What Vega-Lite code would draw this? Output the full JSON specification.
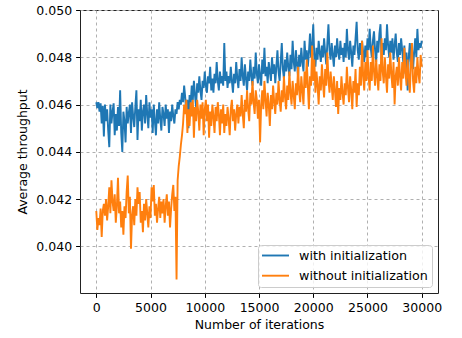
{
"$schema": "https://vega.github.io/schema/vega-lite/v6.json",
"width": 358, "height": 283,
"autosize": "none",
"padding": {"left": 80, "top": 10, "right": 24, "bottom": 45},
"background": "white",
"config": {
 "font": "DejaVu Sans",
 "view": {"stroke": "#222222", "strokeWidth": 1},
 "axis": {"domain": false, "grid": true, "gridColor": "#b0b0b0", "gridDash": [3, 3], "gridWidth": 1, "tickColor": "#000000", "tickSize": 4.4, "tickWidth": 1, "labelFontSize": 12.5, "labelColor": "#000000", "titleFontSize": 12.5, "titleColor": "#000000", "titleFontWeight": "normal", "labelPadding": 4},
 "legend": {"title": null, "orient": "bottom-right", "offset": 6, "padding": 4, "rowPadding": 6.2, "symbolType": "M-2.575,0L2.575,0", "symbolSize": 110, "symbolOffset": 7, "symbolStrokeWidth": 1.9, "labelFontSize": 12.7, "labelOffset": 17, "fillColor": "rgba(255,255,255,0.8)", "strokeColor": "#cccccc", "cornerRadius": 3, "labelColor": "#000000"}
},
"data": {"values": [
{"i":0,"w":0.0461,"o":0.0415},{"i":100,"w":0.04585,"o":0.0407},{"i":200,"w":0.0461,"o":0.0412},{"i":300,"w":0.0457,"o":0.0409},{"i":400,"w":0.04605,"o":0.0416},{"i":500,"w":0.0452,"o":0.0404},{"i":600,"w":0.04595,"o":0.0415},{"i":700,"w":0.04465,"o":0.0418},{"i":800,"w":0.046,"o":0.0413},{"i":900,"w":0.0453,"o":0.042},
{"i":1000,"w":0.0458,"o":0.0411},{"i":1100,"w":0.0449,"o":0.0417},{"i":1200,"w":0.0442,"o":0.0425},{"i":1300,"w":0.046,"o":0.0414},{"i":1400,"w":0.0452,"o":0.0428},{"i":1500,"w":0.0457,"o":0.0419},{"i":1600,"w":0.04605,"o":0.0415},{"i":1700,"w":0.0447,"o":0.0422},{"i":1800,"w":0.0456,"o":0.041},{"i":1900,"w":0.0449,"o":0.0417},
{"i":2000,"w":0.0459,"o":0.0429},{"i":2100,"w":0.0451,"o":0.0414},{"i":2200,"w":0.0466,"o":0.0419},{"i":2300,"w":0.0448,"o":0.0408},{"i":2400,"w":0.044,"o":0.0415},{"i":2500,"w":0.0457,"o":0.0405},{"i":2600,"w":0.0453,"o":0.0417},{"i":2700,"w":0.0444,"o":0.0412},{"i":2800,"w":0.0459,"o":0.0423},{"i":2900,"w":0.0452,"o":0.043},
{"i":3000,"w":0.04565,"o":0.0414},{"i":3100,"w":0.046,"o":0.0421},{"i":3200,"w":0.0448,"o":0.0399},{"i":3300,"w":0.0461,"o":0.0413},{"i":3400,"w":0.0455,"o":0.0417},{"i":3500,"w":0.04505,"o":0.0409},{"i":3600,"w":0.0459,"o":0.042},{"i":3700,"w":0.0466,"o":0.0413},{"i":3800,"w":0.0445,"o":0.0425},{"i":3900,"w":0.0458,"o":0.0418},
{"i":4000,"w":0.0453,"o":0.0423},{"i":4100,"w":0.0462,"o":0.041},{"i":4200,"w":0.0449,"o":0.0415},{"i":4300,"w":0.0457,"o":0.0406},{"i":4400,"w":0.046,"o":0.0418},{"i":4500,"w":0.0452,"o":0.0411},{"i":4600,"w":0.0464,"o":0.042},{"i":4700,"w":0.0456,"o":0.0414},{"i":4800,"w":0.045,"o":0.0408},{"i":4900,"w":0.0461,"o":0.0417},
{"i":5000,"w":0.04545,"o":0.0412},{"i":5100,"w":0.0458,"o":0.0425},{"i":5200,"w":0.0448,"o":0.0419},{"i":5300,"w":0.046,"o":0.0426},{"i":5400,"w":0.0453,"o":0.0413},{"i":5500,"w":0.0447,"o":0.0418},{"i":5600,"w":0.0458,"o":0.041},{"i":5700,"w":0.0452,"o":0.0416},{"i":5800,"w":0.0461,"o":0.0421},{"i":5900,"w":0.0454,"o":0.0412},
{"i":6000,"w":0.0449,"o":0.0419},{"i":6100,"w":0.0459,"o":0.0414},{"i":6200,"w":0.0456,"o":0.042},{"i":6300,"w":0.0451,"o":0.041},{"i":6400,"w":0.046,"o":0.0417},{"i":6500,"w":0.0454,"o":0.0422},{"i":6600,"w":0.0458,"o":0.0413},{"i":6700,"w":0.0448,"o":0.0419},{"i":6800,"w":0.0457,"o":0.0408},{"i":6900,"w":0.0453,"o":0.0416},
{"i":7000,"w":0.046,"o":0.0422},{"i":7100,"w":0.0455,"o":0.0426},{"i":7200,"w":0.0452,"o":0.0415},{"i":7300,"w":0.0458,"o":0.0421},{"i":7400,"w":0.0456,"o":0.0386},{"i":7500,"w":0.0461,"o":0.0428},{"i":7600,"w":0.0458,"o":0.0434},{"i":7700,"w":0.0462,"o":0.0438},{"i":7800,"w":0.046,"o":0.0443},{"i":7900,"w":0.0465,"o":0.0447},
{"i":8000,"w":0.0461,"o":0.0452},{"i":8100,"w":0.0468,"o":0.046},{"i":8200,"w":0.0463,"o":0.0456},{"i":8300,"w":0.0456,"o":0.0462},{"i":8400,"w":0.0462,"o":0.0448},{"i":8500,"w":0.045,"o":0.0458},{"i":8600,"w":0.0464,"o":0.0451},{"i":8700,"w":0.046,"o":0.0461},{"i":8800,"w":0.0468,"o":0.0455},{"i":8900,"w":0.0462,"o":0.0462},
{"i":9000,"w":0.047,"o":0.0446},{"i":9100,"w":0.0464,"o":0.0459},{"i":9200,"w":0.0459,"o":0.0453},{"i":9300,"w":0.0469,"o":0.0462},{"i":9400,"w":0.0465,"o":0.0457},{"i":9500,"w":0.0472,"o":0.0449},{"i":9600,"w":0.0466,"o":0.046},{"i":9700,"w":0.0462,"o":0.0454},{"i":9800,"w":0.047,"o":0.0461},{"i":9900,"w":0.0467,"o":0.0447},
{"i":10000,"w":0.0474,"o":0.0458},{"i":10100,"w":0.0468,"o":0.0462},{"i":10200,"w":0.0465,"o":0.0453},{"i":10300,"w":0.0472,"o":0.046},{"i":10400,"w":0.0469,"o":0.0446},{"i":10500,"w":0.0476,"o":0.0457},{"i":10600,"w":0.0466,"o":0.0451},{"i":10700,"w":0.0471,"o":0.046},{"i":10800,"w":0.0465,"o":0.0455},{"i":10900,"w":0.0473,"o":0.0448},
{"i":11000,"w":0.0469,"o":0.0459},{"i":11100,"w":0.0478,"o":0.0453},{"i":11200,"w":0.047,"o":0.0461},{"i":11300,"w":0.0466,"o":0.0456},{"i":11400,"w":0.0474,"o":0.0447},{"i":11500,"w":0.0469,"o":0.0458},{"i":11600,"w":0.0472,"o":0.0452},{"i":11700,"w":0.0468,"o":0.046},{"i":11800,"w":0.0486,"o":0.0448},{"i":11900,"w":0.047,"o":0.0456},
{"i":12000,"w":0.0474,"o":0.0451},{"i":12100,"w":0.0467,"o":0.0459},{"i":12200,"w":0.0472,"o":0.0454},{"i":12300,"w":0.0469,"o":0.0447},{"i":12400,"w":0.0476,"o":0.0458},{"i":12500,"w":0.047,"o":0.0462},{"i":12600,"w":0.0465,"o":0.0453},{"i":12700,"w":0.0473,"o":0.0458},{"i":12800,"w":0.0469,"o":0.0449},{"i":12900,"w":0.0478,"o":0.0456},
{"i":13000,"w":0.0471,"o":0.046},{"i":13100,"w":0.0467,"o":0.0452},{"i":13200,"w":0.0475,"o":0.0459},{"i":13300,"w":0.047,"o":0.0455},{"i":13400,"w":0.048,"o":0.0464},{"i":13500,"w":0.0472,"o":0.0456},{"i":13600,"w":0.0468,"o":0.045},{"i":13700,"w":0.0477,"o":0.0462},{"i":13800,"w":0.0471,"o":0.0457},{"i":13900,"w":0.0466,"o":0.0466},
{"i":14000,"w":0.0474,"o":0.0458},{"i":14100,"w":0.047,"o":0.0453},{"i":14200,"w":0.0479,"o":0.0465},{"i":14300,"w":0.0472,"o":0.046},{"i":14400,"w":0.0468,"o":0.047},{"i":14500,"w":0.0476,"o":0.0461},{"i":14600,"w":0.0471,"o":0.0456},{"i":14700,"w":0.0482,"o":0.0466},{"i":14800,"w":0.0473,"o":0.0462},{"i":14900,"w":0.0469,"o":0.0454},
{"i":15000,"w":0.0477,"o":0.0462},{"i":15100,"w":0.0472,"o":0.0444},{"i":15200,"w":0.0468,"o":0.046},{"i":15300,"w":0.0479,"o":0.0466},{"i":15400,"w":0.0473,"o":0.0458},{"i":15500,"w":0.0484,"o":0.047},{"i":15600,"w":0.0472,"o":0.0462},{"i":15700,"w":0.0476,"o":0.0455},{"i":15800,"w":0.0469,"o":0.0465},{"i":15900,"w":0.0478,"o":0.046},
{"i":16000,"w":0.0474,"o":0.0451},{"i":16100,"w":0.047,"o":0.0464},{"i":16200,"w":0.048,"o":0.0458},{"i":16300,"w":0.0473,"o":0.0468},{"i":16400,"w":0.0477,"o":0.0461},{"i":16500,"w":0.0469,"o":0.0456},{"i":16600,"w":0.0476,"o":0.0465},{"i":16700,"w":0.0483,"o":0.046},{"i":16800,"w":0.0474,"o":0.047},{"i":16900,"w":0.047,"o":0.0462},
{"i":17000,"w":0.0478,"o":0.0457},{"i":17100,"w":0.0486,"o":0.0466},{"i":17200,"w":0.0475,"o":0.0461},{"i":17300,"w":0.0471,"o":0.0472},{"i":17400,"w":0.0479,"o":0.0463},{"i":17500,"w":0.0474,"o":0.0458},{"i":17600,"w":0.0482,"o":0.0468},{"i":17700,"w":0.0476,"o":0.0462},{"i":17800,"w":0.0472,"o":0.0474},{"i":17900,"w":0.0481,"o":0.0465},
{"i":18000,"w":0.0475,"o":0.046},{"i":18100,"w":0.0487,"o":0.047},{"i":18200,"w":0.0478,"o":0.0464},{"i":18300,"w":0.0474,"o":0.0458},{"i":18400,"w":0.0483,"o":0.0469},{"i":18500,"w":0.0477,"o":0.0464},{"i":18600,"w":0.0472,"o":0.0476},{"i":18700,"w":0.0481,"o":0.0466},{"i":18800,"w":0.0476,"o":0.0461},{"i":18900,"w":0.0484,"o":0.0472},
{"i":19000,"w":0.0478,"o":0.0466},{"i":19100,"w":0.0474,"o":0.046},{"i":19200,"w":0.0487,"o":0.0474},{"i":19300,"w":0.0479,"o":0.0467},{"i":19400,"w":0.0483,"o":0.0479},{"i":19500,"w":0.0476,"o":0.0468},{"i":19600,"w":0.0482,"o":0.0458},{"i":19700,"w":0.049,"o":0.0472},{"i":19800,"w":0.048,"o":0.0468},{"i":19900,"w":0.0485,"o":0.0485},
{"i":20000,"w":0.0494,"o":0.047},{"i":20100,"w":0.048,"o":0.0479},{"i":20200,"w":0.0476,"o":0.0465},{"i":20300,"w":0.0484,"o":0.0474},{"i":20400,"w":0.0479,"o":0.0468},{"i":20500,"w":0.0487,"o":0.046},{"i":20600,"w":0.0482,"o":0.0472},{"i":20700,"w":0.0478,"o":0.0466},{"i":20800,"w":0.0485,"o":0.0477},{"i":20900,"w":0.048,"o":0.0469},
{"i":21000,"w":0.0488,"o":0.0463},{"i":21100,"w":0.0482,"o":0.0475},{"i":21200,"w":0.0477,"o":0.0468},{"i":21300,"w":0.0486,"o":0.0482},{"i":21400,"w":0.0494,"o":0.0471},{"i":21500,"w":0.0483,"o":0.0465},{"i":21600,"w":0.0479,"o":0.0474},{"i":21700,"w":0.0486,"o":0.0468},{"i":21800,"w":0.0481,"o":0.0462},{"i":21900,"w":0.0476,"o":0.0472},
{"i":22000,"w":0.0485,"o":0.0466},{"i":22100,"w":0.048,"o":0.0459},{"i":22200,"w":0.0488,"o":0.047},{"i":22300,"w":0.0482,"o":0.0456},{"i":22400,"w":0.0479,"o":0.0467},{"i":22500,"w":0.0487,"o":0.0462},{"i":22600,"w":0.0481,"o":0.0472},{"i":22700,"w":0.0484,"o":0.0465},{"i":22800,"w":0.0478,"o":0.046},{"i":22900,"w":0.0486,"o":0.0469},
{"i":23000,"w":0.048,"o":0.0464},{"i":23100,"w":0.0492,"o":0.0476},{"i":23200,"w":0.0483,"o":0.0467},{"i":23300,"w":0.0479,"o":0.0461},{"i":23400,"w":0.0487,"o":0.0472},{"i":23500,"w":0.0482,"o":0.0466},{"i":23600,"w":0.0476,"o":0.0458},{"i":23700,"w":0.0485,"o":0.047},{"i":23800,"w":0.0481,"o":0.0465},{"i":23900,"w":0.0488,"o":0.0475},
{"i":24000,"w":0.0495,"o":0.0459},{"i":24100,"w":0.0483,"o":0.0469},{"i":24200,"w":0.0479,"o":0.0464},{"i":24300,"w":0.0486,"o":0.0476},{"i":24400,"w":0.0481,"o":0.0468},{"i":24500,"w":0.0487,"o":0.0487},{"i":24600,"w":0.0482,"o":0.0472},{"i":24700,"w":0.0478,"o":0.0466},{"i":24800,"w":0.0485,"o":0.0478},{"i":24900,"w":0.048,"o":0.047},
{"i":25000,"w":0.0488,"o":0.0483},{"i":25100,"w":0.0483,"o":0.0472},{"i":25200,"w":0.0492,"o":0.0466},{"i":25300,"w":0.0484,"o":0.0478},{"i":25400,"w":0.048,"o":0.047},{"i":25500,"w":0.0487,"o":0.0485},{"i":25600,"w":0.0491,"o":0.0474},{"i":25700,"w":0.0483,"o":0.0468},{"i":25800,"w":0.0478,"o":0.0479},{"i":25900,"w":0.0487,"o":0.0472},
{"i":26000,"w":0.0482,"o":0.0466},{"i":26100,"w":0.049,"o":0.0477},{"i":26200,"w":0.0494,"o":0.047},{"i":26300,"w":0.0479,"o":0.0488},{"i":26400,"w":0.0486,"o":0.0474},{"i":26500,"w":0.0481,"o":0.0469},{"i":26600,"w":0.0488,"o":0.048},{"i":26700,"w":0.0483,"o":0.0472},{"i":26800,"w":0.0494,"o":0.0465},{"i":26900,"w":0.0485,"o":0.0477},
{"i":27000,"w":0.048,"o":0.0471},{"i":27100,"w":0.0487,"o":0.0482},{"i":27200,"w":0.0482,"o":0.0473},{"i":27300,"w":0.0488,"o":0.0467},{"i":27400,"w":0.0479,"o":0.0478},{"i":27500,"w":0.0485,"o":0.046},{"i":27600,"w":0.049,"o":0.0472},{"i":27700,"w":0.0482,"o":0.0476},{"i":27800,"w":0.0478,"o":0.0468},{"i":27900,"w":0.0486,"o":0.048},
{"i":28000,"w":0.0481,"o":0.0472},{"i":28100,"w":0.0488,"o":0.0466},{"i":28200,"w":0.0483,"o":0.0478},{"i":28300,"w":0.0478,"o":0.0471},{"i":28400,"w":0.0485,"o":0.0484},{"i":28500,"w":0.0473,"o":0.0474},{"i":28600,"w":0.0482,"o":0.0468},{"i":28700,"w":0.0466,"o":0.0479},{"i":28800,"w":0.048,"o":0.0472},{"i":28900,"w":0.0486,"o":0.0465},
{"i":29000,"w":0.0478,"o":0.0477},{"i":29100,"w":0.0484,"o":0.0486},{"i":29200,"w":0.0475,"o":0.047},{"i":29300,"w":0.0482,"o":0.0465},{"i":29400,"w":0.0488,"o":0.0476},{"i":29500,"w":0.048,"o":0.0469},{"i":29600,"w":0.0492,"o":0.048},{"i":29700,"w":0.0483,"o":0.0473},{"i":29800,"w":0.0486,"o":0.0469},{"i":29900,"w":0.0484,"o":0.0481},
{"i":30000,"w":0.0487,"o":0.0476}
]},
"layer": [
 {"mark": {"type": "line", "strokeWidth": 1.9},
  "encoding": {
   "x": {"field": "i", "type": "quantitative", "scale": {"domain": [-1500, 31500], "nice": false, "zero": false}, "axis": {"values": [0, 5000, 10000, 15000, 20000, 25000, 30000], "format": "d", "title": "Number of iterations", "titlePadding": 5}},
   "y": {"field": "w", "type": "quantitative", "scale": {"domain": [0.03803, 0.05], "nice": false, "zero": false}, "axis": {"values": [0.04, 0.042, 0.044, 0.046, 0.048, 0.05], "format": ".3f", "title": "Average throughput", "titlePadding": 6}},
   "color": {"datum": "with initialization", "type": "nominal", "scale": {"domain": ["with initialization", "without initialization"], "range": ["#1f77b4", "#ff7f0e"]}}
  }},
 {"mark": {"type": "line", "strokeWidth": 1.9},
  "encoding": {
   "x": {"field": "i", "type": "quantitative", "axis": {"title": "Number of iterations"}},
   "y": {"field": "o", "type": "quantitative", "axis": {"title": "Average throughput"}},
   "color": {"datum": "without initialization", "type": "nominal"}
  }}
]
}
